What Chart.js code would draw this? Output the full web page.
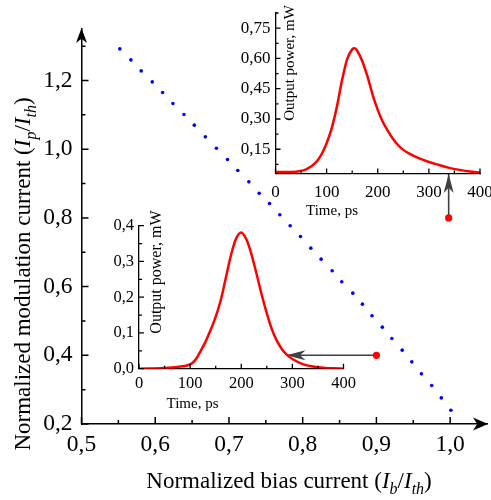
<!DOCTYPE html>
<html>
<head>
<meta charset="utf-8">
<script src="https://cdn.jsdelivr.net/npm/chart.js@4.4.1/dist/chart.umd.min.js"></script>
<style>
  body { margin: 0; background: #fff; }
  #cadre { position: relative; width: 491px; height: 500px; }
  canvas { position: absolute; }
</style>
</head>
<body>
<div id="cadre">
  <canvas id="principal" width="491" height="500" style="left:0;top:0"></canvas>
  <canvas id="encartHaut" width="271" height="230" style="left:220px;top:0"></canvas>
  <canvas id="encartBas" width="270" height="215" style="left:90px;top:205px"></canvas>
</div>
<script>
"use strict";

// courbe principale (points bleus)
const courantPolarisation = [0.552, 0.567, 0.581, 0.596, 0.610, 0.624, 0.639, 0.653, 0.668, 0.683, 0.698,
  0.712, 0.727, 0.741, 0.755, 0.769, 0.783, 0.797, 0.811, 0.825, 0.840, 0.853, 0.868, 0.881,
  0.894, 0.908, 0.921, 0.935, 0.948, 0.961, 0.975, 0.988, 1.001];
const courantModulation = [1.292, 1.260, 1.228, 1.196, 1.165, 1.133, 1.101, 1.070, 1.036, 1.003, 0.970,
  0.938, 0.905, 0.872, 0.842, 0.809, 0.777, 0.746, 0.712, 0.680, 0.646, 0.614, 0.581, 0.549,
  0.515, 0.482, 0.449, 0.415, 0.381, 0.346, 0.312, 0.276, 0.240];

const ticksXPrincipal = [0.5, 0.6, 0.7, 0.8, 0.9, 1.0];
const labelsXPrincipal = ["0,5", "0,6", "0,7", "0,8", "0,9", "1,0"];
const ticksXPrincipalMineurs = [0.55, 0.65, 0.75, 0.85, 0.95];
const ticksYPrincipal = [0.2, 0.4, 0.6, 0.8, 1.0, 1.2];
const labelsYPrincipal = ["0,2", "0,4", "0,6", "0,8", "1,0", "1,2"];
const ticksYPrincipalMineurs = [0.3, 0.5, 0.7, 0.9, 1.1, 1.3];

// points rouges et fleches vers les encarts
const pointsRougesX = [0.998, 0.9];
const pointsRougesY = [0.8, 0.4];
const flecheHautX = [0.998, 0.998];
const flecheHautY = [0.8, 0.928];
const flecheBasX = [0.9, 0.778];
const flecheBasY = [0.4, 0.4];

// encart du haut
const tempsHaut = [0, 20, 40, 60, 80, 90, 100, 110, 120, 130, 140, 150, 155, 160, 170, 180, 190, 200,
  210, 220, 230, 240, 250, 260, 280, 300, 320, 340, 360, 380, 400];
const puissanceHaut = [0.037, 0.037, 0.039, 0.05, 0.088, 0.125, 0.18, 0.255, 0.36, 0.49, 0.595, 0.645,
  0.65, 0.637, 0.585, 0.51, 0.42, 0.345, 0.285, 0.24, 0.201, 0.17, 0.147, 0.131, 0.106, 0.087,
  0.072, 0.058, 0.048, 0.04, 0.035];
const ticksYHaut = [0.15, 0.30, 0.45, 0.60, 0.75];
const labelsYHaut = ["0,15", "0,30", "0,45", "0,60", "0,75"];
const ticksYHautMineurs = [0.075, 0.225, 0.375, 0.525, 0.675, 0.825];

// encart du bas
const tempsBas = [0, 50, 75, 100, 110, 120, 130, 140, 150, 160, 170, 180, 190, 200, 210, 220, 230,
  240, 250, 260, 270, 280, 290, 300, 320, 340, 360, 380, 400];
const puissanceBas = [0, 0.002, 0.005, 0.012, 0.024, 0.048, 0.075, 0.108, 0.145, 0.192, 0.255, 0.318,
  0.364, 0.381, 0.362, 0.32, 0.265, 0.207, 0.155, 0.11, 0.077, 0.054, 0.038, 0.027, 0.013,
  0.006, 0.003, 0.001, 0];
const ticksYBas = [0, 0.1, 0.2, 0.3, 0.4];
const labelsYBas = ["0,0", "0,1", "0,2", "0,3", "0,4"];
const ticksYBasMineurs = [0.05, 0.15, 0.25, 0.35];

// axe du temps commun aux deux encarts
const ticksTemps = [0, 100, 200, 300, 400];
const labelsTemps = ["0", "100", "200", "300", "400"];
const ticksTempsMineurs = [50, 150, 250, 350];

const police = "'Liberation Serif', 'Times New Roman', serif";

function enPoints(xs, ys) {
  return xs.map((x, i) => ({ x: x, y: ys[i] }));
}

function dessinerTexteRiche(ctx, segments, x, y, taille) {
  const fonte = s => (s.style === "n" ? "" : "italic ") +
    (s.style === "sub" ? Math.round(taille * 0.68) : taille) + "px " + police;
  let largeur = 0;
  segments.forEach(s => { ctx.font = fonte(s); largeur += ctx.measureText(s.t).width; });
  let cx = x - largeur / 2;
  ctx.textAlign = "left";
  ctx.textBaseline = "alphabetic";
  segments.forEach(s => {
    ctx.font = fonte(s);
    ctx.fillText(s.t, cx, y + (s.style === "sub" ? taille * 0.25 : 0));
    cx += ctx.measureText(s.t).width;
  });
}

function pointeFleche(ctx, x, y, angle, longueur, largeur, couleur) {
  ctx.save();
  ctx.translate(x, y);
  ctx.rotate(angle);
  ctx.fillStyle = couleur;
  ctx.beginPath();
  ctx.moveTo(0, 0);
  ctx.lineTo(-longueur, -largeur / 2);
  ctx.lineTo(-longueur * 0.72, 0);
  ctx.lineTo(-longueur, largeur / 2);
  ctx.closePath();
  ctx.fill();
  ctx.restore();
}

// ticks vers l'interieur, dessines a partir des echelles du graphique
const ticksInternes = {
  id: "ticksInternes",
  afterDraw(chart, args, opts) {
    const ctx = chart.ctx;
    const xs = chart.scales.x, ys = chart.scales.y;
    ctx.save();
    ctx.strokeStyle = "#000";
    ctx.lineWidth = opts.epaisseur;
    ctx.beginPath();
    opts.xMaj.forEach(v => { const p = xs.getPixelForValue(v); ctx.moveTo(p, ys.bottom); ctx.lineTo(p, ys.bottom - opts.longMaj); });
    opts.xMin.forEach(v => { const p = xs.getPixelForValue(v); ctx.moveTo(p, ys.bottom); ctx.lineTo(p, ys.bottom - opts.longMin); });
    opts.yMaj.forEach(v => { const p = ys.getPixelForValue(v); ctx.moveTo(xs.left, p); ctx.lineTo(xs.left + opts.longMaj, p); });
    opts.yMin.forEach(v => { const p = ys.getPixelForValue(v); ctx.moveTo(xs.left, p); ctx.lineTo(xs.left + opts.longMin, p); });
    ctx.stroke();
    ctx.restore();
  }
};

// titres avec italique et indices
const titresRiches = {
  id: "titresRiches",
  afterDraw(chart, args, opts) {
    const ctx = chart.ctx;
    ctx.save();
    ctx.fillStyle = "#000";
    opts.titres.forEach(t => {
      ctx.save();
      ctx.translate(t.x, t.y);
      if (t.vertical) ctx.rotate(-Math.PI / 2);
      dessinerTexteRiche(ctx, t.segments, 0, 0, t.taille);
      ctx.restore();
    });
    ctx.restore();
  }
};

// pointes des axes et des fleches
const pointes = {
  id: "pointes",
  afterDatasetsDraw(chart) {
    const ctx = chart.ctx;
    const a = chart.chartArea;
    pointeFleche(ctx, a.left, a.top - 1, -Math.PI / 2, 15, 11, "#000");
    pointeFleche(ctx, a.right + 1, a.bottom, 0, 15, 13, "#000");
    chart.data.datasets.forEach((ds, i) => {
      if (!ds.flecheFin) return;
      const pts = chart.getDatasetMeta(i).data;
      const p1 = pts[pts.length - 2], p2 = pts[pts.length - 1];
      const angle = Math.atan2(p2.y - p1.y, p2.x - p1.x);
      pointeFleche(ctx, p2.x, p2.y, angle, 19, 10, ds.borderColor);
    });
  }
};

function ajusterLargeur(largeur) {
  return s => { s.width = largeur; s.paddingTop = 0; s.paddingBottom = 0; };
}
function ajusterHauteur(hauteur) {
  return s => { s.height = hauteur; s.paddingLeft = 0; s.paddingRight = 0; };
}

// graphique principal
new Chart(document.getElementById("principal"), {
  type: "scatter",
  data: {
    datasets: [
      {
        data: enPoints(pointsRougesX, pointsRougesY),
        pointRadius: 3.6, pointBackgroundColor: "#ff0000", pointBorderWidth: 0, order: 0
      },
      {
        data: enPoints(flecheHautX, flecheHautY), showLine: true, flecheFin: true,
        borderColor: "#404040", borderWidth: 1.6, pointRadius: 0, order: 1
      },
      {
        data: enPoints(flecheBasX, flecheBasY), showLine: true, flecheFin: true,
        borderColor: "#404040", borderWidth: 1.6, pointRadius: 0, order: 1
      },
      {
        data: enPoints(courantPolarisation, courantModulation),
        pointRadius: 1.8, pointBackgroundColor: "#0000ff", pointBorderWidth: 0, order: 2
      }
    ]
  },
  options: {
    responsive: false, animation: false, devicePixelRatio: 1,
    layout: { padding: { top: 29, right: 3.6, left: 0, bottom: 0 } },
    plugins: {
      legend: { display: false }, tooltip: { enabled: false },
      ticksInternes: {
        xMaj: ticksXPrincipal, xMin: ticksXPrincipalMineurs,
        yMaj: ticksYPrincipal, yMin: ticksYPrincipalMineurs,
        longMaj: 7, longMin: 4, epaisseur: 1.5
      },
      titresRiches: {
        titres: [
          {
            x: 289, y: 488, taille: 23, segments: [
              { t: "Normalized bias current (", style: "n" }, { t: "I", style: "i" }, { t: "b", style: "sub" },
              { t: "/", style: "n" }, { t: "I", style: "i" }, { t: "th", style: "sub" }, { t: ")", style: "n" }]
          },
          {
            x: 30, y: 274, taille: 23, vertical: true, segments: [
              { t: "Normalized modulation current (", style: "n" }, { t: "I", style: "i" }, { t: "p", style: "sub" },
              { t: "/", style: "n" }, { t: "I", style: "i" }, { t: "th", style: "sub" }, { t: ")", style: "n" }]
          }
        ]
      }
    },
    scales: {
      x: {
        type: "linear", min: 0.5, max: 1.05,
        afterBuildTicks: s => { s.ticks = ticksXPrincipal.map(v => ({ value: v })); },
        afterFit: ajusterHauteur(76),
        grid: { display: false, drawTicks: false },
        border: { display: true, color: "#000", width: 1.5 },
        ticks: {
          padding: 7, color: "#000", font: { family: police, size: 23.5 }, maxRotation: 0,
          callback: (v, i) => labelsXPrincipal[i]
        }
      },
      y: {
        type: "linear", min: 0.2, max: 1.35,
        afterBuildTicks: s => { s.ticks = ticksYPrincipal.map(v => ({ value: v })); },
        afterFit: ajusterLargeur(81.5),
        grid: { display: false, drawTicks: false },
        border: { display: true, color: "#000", width: 1.5 },
        ticks: {
          padding: 9, color: "#000", font: { family: police, size: 23.5 },
          callback: (v, i) => labelsYPrincipal[i]
        }
      }
    }
  },
  plugins: [ticksInternes, titresRiches, pointes]
});

function creerEncart(id, temps, puissance, cfg) {
  return new Chart(document.getElementById(id), {
    type: "line",
    data: {
      datasets: [{
        data: enPoints(temps, puissance), borderColor: "#ff0000", borderWidth: 2.5,
        pointRadius: 0, cubicInterpolationMode: "monotone", fill: false
      }]
    },
    options: {
      responsive: false, animation: false, devicePixelRatio: 1,
      layout: { padding: cfg.marges },
      plugins: {
        legend: { display: false }, tooltip: { enabled: false },
        ticksInternes: {
          xMaj: ticksTemps, xMin: ticksTempsMineurs, yMaj: cfg.ticksY, yMin: cfg.ticksYMineurs,
          longMaj: 5, longMin: 3, epaisseur: 1.3
        },
        titresRiches: {
          titres: [
            { x: cfg.titreX[0], y: cfg.titreX[1], taille: 15, segments: [{ t: "Time, ps", style: "n" }] },
            { x: cfg.titreY[0], y: cfg.titreY[1], taille: cfg.tailleTitreY, vertical: true, segments: [{ t: "Output power, mW", style: "n" }] }
          ]
        }
      },
      scales: {
        x: {
          type: "linear", min: 0, max: 400,
          afterBuildTicks: s => { s.ticks = ticksTemps.map(v => ({ value: v })); },
          afterFit: ajusterHauteur(cfg.hauteurX),
          grid: { display: false, drawTicks: false },
          border: { display: true, color: "#000", width: 1.3 },
          ticks: {
            padding: cfg.paddingX, color: "#000", font: { family: police, size: cfg.taille }, maxRotation: 0,
            callback: (v, i) => labelsTemps[i]
          }
        },
        y: {
          type: "linear", min: cfg.yMin, max: cfg.yMax,
          afterBuildTicks: s => { s.ticks = cfg.ticksY.map(v => ({ value: v })); },
          afterFit: ajusterLargeur(cfg.largeurY),
          grid: { display: false, drawTicks: false },
          border: { display: true, color: "#000", width: 1.3 },
          ticks: {
            padding: 5, color: "#000", font: { family: police, size: cfg.taille },
            callback: (v, i) => cfg.labelsY[i]
          }
        }
      }
    },
    plugins: [ticksInternes, titresRiches]
  });
}

creerEncart("encartHaut", tempsHaut, puissanceHaut, {
  marges: { top: 13, right: 11, left: 0, bottom: 0 },
  largeurY: 55.5, hauteurX: 56.5, yMin: 0.03, yMax: 0.825,
  ticksY: ticksYHaut, labelsY: labelsYHaut, ticksYMineurs: ticksYHautMineurs,
  taille: 17, paddingX: 9, titreX: [112, 215], titreY: [74, 63], tailleTitreY: 15
});

creerEncart("encartBas", tempsBas, puissanceBas, {
  marges: { top: 20.7, right: 16.5, left: 0, bottom: 0 },
  largeurY: 49, hauteurX: 51.3, yMin: 0, yMax: 0.4,
  ticksY: ticksYBas, labelsY: labelsYBas, ticksYMineurs: ticksYBasMineurs,
  taille: 16.5, paddingX: 5, titreX: [102.5, 203], titreY: [71, 67], tailleTitreY: 16
});
</script>
</body>
</html>
